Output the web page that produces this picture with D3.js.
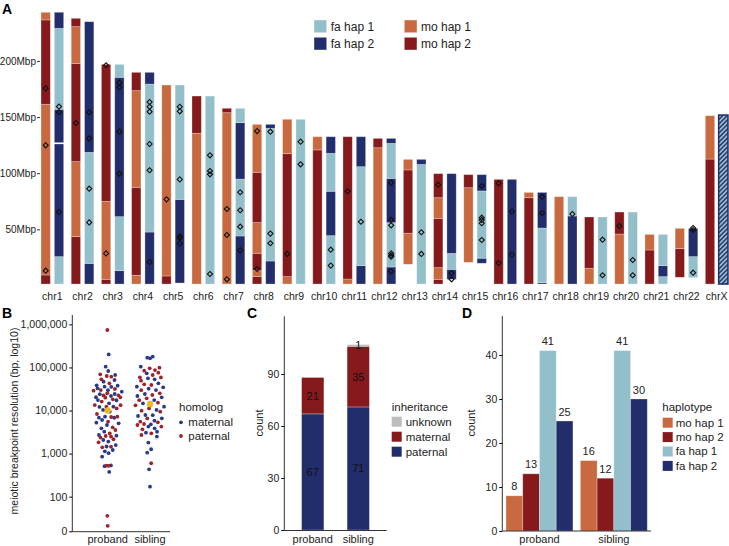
<!DOCTYPE html>
<html><head><meta charset="utf-8">
<script src="https://cdn.jsdelivr.net/npm/d3@7"></script>
<style>body{margin:0;background:#fff} svg{display:block;font-family:"Liberation Sans",Arial,Helvetica,sans-serif}</style>
</head><body><svg id="c" width="729" height="546"></svg>
<script>
// ---------- Panel A data ----------
const chroms = ["chr1","chr2","chr3","chr4","chr5","chr6","chr7","chr8","chr9","chr10","chr11","chr12","chr13","chr14","chr15","chr16","chr17","chr18","chr19","chr20","chr21","chr22","chrX"];
const hapNames = ["fa hap 1","fa hap 2","mo hap 1","mo hap 2"];
const hapColors = ["#93bfcb","#222d6b","#c8693f","#86191b"];
const aTicks = [50,100,150,200];
// maternal segments [startMbp, endMbp, haplotype index]
const matSegs = [
 [[1.3,9.4,3],[9.4,161.4,2],[161.4,236.5,3],[236.5,243.3,2]],
 [[1.3,43.5,3],[43.5,110.3,2],[110.3,197.8,3],[197.8,230.5,2],[230.5,237.9,3]],
 [[1.3,5.5,3],[5.5,74.9,2],[74.9,196.9,3]],
 [[1.3,9.1,2],[9.1,87.4,3],[87.4,173.5,2],[173.5,189.8,3]],
 [[1.3,8.5,3],[8.5,178.5,2]],
 [[1.3,135.5,2],[135.5,168.7,3]],
 [[1.3,153.9,2],[153.9,157.8,3]],
 [[1.3,7.9,3],[7.9,13.2,2],[13.2,28.7,3],[28.7,56,2],[56,100.8,3],[100.8,143.5,2]],
 [[1.3,7.9,2],[7.9,117.4,3],[117.4,148,2]],
 [[1.3,120.7,3],[120.7,132.5,2]],
 [[1.3,5.8,2],[5.8,132.5,3]],
 [[1.3,122.7,2],[122.7,131,3]],
 [[18.9,46.5,2],[46.5,102.9,3],[102.9,112.3,2]],
 [[1.3,5.5,3],[5.5,15.9,2],[15.9,59.8,3],[59.8,78.2,2],[78.2,99.6,3]],
 [[20.6,87.1,2],[87.1,98.7,3]],
 [[1.3,94.5,3]],
 [[1.3,78.2,3],[78.2,82.9,2]],
 [[1.3,79.1,2]],
 [[1.3,15.3,2],[15.3,61,3]],
 [[1.3,45.8,2],[45.8,65.4,3]],
 [[1.3,31.6,3],[31.6,45.5,2]],
 [[7.3,32.8,3],[32.8,50.9,2]],
 [[1.3,112.6,3],[112.6,151.2,2]]
];
// paternal segments (index 4 = hatched, unphased chrX)
const patSegs = [
 [[1.3,25.7,0],[25.7,126,1],[127.2,156.9,1],[156.9,229,0],[229,243.3,1]],
 [[1.3,19.7,1],[19.7,118.6,0],[118.6,234.9,1]],
 [[1.3,13.2,1],[13.2,61.3,0],[61.3,185.4,1],[185.4,196.9,0]],
 [[1.3,47.6,1],[47.6,179.4,0],[179.4,189.8,1]],
 [[2.2,76.7,1],[76.7,178.5,0]],
 [[1.3,168.7,0]],
 [[1.3,44.1,1],[44.1,94.8,0],[94.8,145,1],[145,157.8,0]],
 [[1.3,21.8,1],[21.8,140,0],[140,143.5,1]],
 [[1.3,148,0]],
 [[1.3,44.4,0],[44.4,83.9,1],[83.9,117.7,0],[117.7,132.5,1]],
 [[1.3,17.7,1],[17.7,105.8,0],[105.8,132.5,1]],
 [[1.3,16.5,1],[16.5,55.9,0],[55.9,95.4,1],[95.4,126.6,0],[126.6,131,1]],
 [[1.3,107.8,0],[107.8,112.3,1]],
 [[5.5,14.4,1],[14.4,28.6,0],[28.6,99.6,1]],
 [[19.8,24.3,1],[24.3,84.2,0],[84.2,98.7,1]],
 [[1.3,94.5,1]],
 [[1.3,2.5,1],[2.5,51.2,0],[51.2,82.9,1]],
 [[1.3,61.9,1],[61.9,79.1,0]],
 [[1.3,61,0]],
 [[1.3,65.4,0]],
 [[1.3,7.9,0],[7.9,17.7,1],[17.7,45.5,0]],
 [[7,25.7,0],[25.7,50.9,1]],
 [[1.3,151.8,4]]
];
const matMarks = [[175.6,124.8,13.2],[144.7],[196.1,28.6],[],[76.7],[],[68.1,45,5.5],[137.5,14.7],[28.1],[],[83.9],[],[],[89.8],[],[91,20],[],[],[],[53],[],[],[]];
const patMarks = [[159.3,154.3,65.4],[154.2,131,86.2,56.2],[180.5,176.5,137,99.6],[163.4,159.2,154.8,126,102.6,20.9],[159.2,155.1,94.5,43.8,42.3,37.5],[115.9,101.9,99,10.2],[83,67,52.4,31.3],[137,46.2,37.6],[128.1,107.9],[31.9,17.7],[56.8],[91.6,58.4,53.6,28.6,26.9,25.7,12.6],[47.4,28.1],[10.8,5.5],[88.6,60.4,58.4,55.4,40.5],[66,27.5],[79.1,64.6],[63.7],[40.8,9.1],[22.7,9.1],[],[51.2,49.4,11.4],[]];

// ---------- Panel B data (bp) ----------
const groups = ["proband","sibling"];
const probandMaternal = [201000,104000,82600,66700,51100,46800,38400,37800,35800,35500,32700,29700,27400,24200,24000,21700,20300,17500,17300,14700,12300,12100,10300,9400,7200,6830,6800,6030,5230,5050,4610,3860,3230,2700,2610,2070,1900,1580,1460,1210,1130,1020,850,530,510,375];
const probandPaternal = [740000,69200,63300,61000,53000,42800,31600,29900,28900,25100,22500,22400,20200,19900,18200,16100,13400,13300,12300,11200,8300,7200,7080,5520,4070,3530,2960,2560,2480,2350,2150,1830,1450,1400,526,520,36,21];
const siblingMaternal = [178000,168600,162700,104000,73000,55800,53000,42800,35800,34500,32100,29900,24200,21700,20200,17500,14700,12300,10300,7870,7800,7460,6590,5820,4790,4230,3860,3230,3060,2480,1800,1260,1050,432,171];
const siblingPaternal = [98800,95300,87100,84100,75600,66700,58900,58500,49300,40600,39100,29600,25100,22900,19200,17400,15200,13400,13200,11200,9930,9400,6550,5520,5320,4870,4610,4230,3660,2960,2700,596];
const medians = [10000,14200];
const bTickValues = [15.7,100,1000,10000,100000,1000000];
const bTickLabels = ["0","100","1,000","10,000","100,000","1,000,000"];
const homologs = ["maternal","paternal"];
const homologColors = ["#273a8c","#a0222a"];

// ---------- Panel C data ----------
const inhCats = ["paternal","maternal","unknown"];
const inhColors = ["#222d6b","#86191b","#bdbdbd"];
const inhProband = [67,21,0];
const inhSibling = [71,35,1];
const cTicks = [0,30,60,90];

// ---------- Panel D data ----------
const dHaps = ["mo hap 1","mo hap 2","fa hap 1","fa hap 2"];
const dColors = ["#c8693f","#86191b","#93bfcb","#222d6b"];
const dProband = [8,13,41,25];
const dSibling = [16,12,41,30];
const dTicks = [0,10,20,30,40];

const svg = d3.select("#c");
const txt = "#222";

// pattern for hatched chrX
const defs = svg.append("defs");
const pat = defs.append("pattern").attr("id","hatch").attr("patternUnits","userSpaceOnUse")
  .attr("width",3.2).attr("height",3.2).attr("patternTransform","rotate(45)");
pat.append("rect").attr("width",3.2).attr("height",3.2).attr("fill","#93bfcb");
pat.append("line").attr("x1",0.8).attr("x2",0.8).attr("y1",0).attr("y2",3.2).attr("stroke","#222d6b").attr("stroke-width",1.4);

function panelLabel(t,x,y){svg.append("text").attr("x",x).attr("y",y).text(t).attr("font-weight","bold").attr("font-size",14).attr("fill","#000");}

// ================= Panel A =================
panelLabel("A",2,14);
const xA = d3.scaleBand().domain(chroms).range([38,731]).paddingInner(0.25).paddingOuter(0.1);
const xIn = d3.scaleBand().domain(["mat","pat"]).range([0,xA.bandwidth()]).paddingInner(0.3);
const yA = d3.scaleLinear().domain([0,250]).range([285.5,4.75]);
const gA = svg.append("g");
const fillFor = h => h===4 ? "url(#hatch)" : hapColors[h];
chroms.forEach((c,i)=>{
  [["mat",matSegs[i],matMarks[i]],["pat",patSegs[i],patMarks[i]]].forEach(([side,segs,marks])=>{
    const x0 = xA(c)+xIn(side), w = xIn.bandwidth();
    gA.selectAll(null).data(segs).enter().append("rect")
      .attr("x",x0).attr("width",w)
      .attr("y",d=>yA(d[1])).attr("height",d=>yA(d[0])-yA(d[1]))
      .attr("fill",d=>fillFor(d[2]))
      .attr("stroke",d=>d[2]===4?"#222d6b":"#fff").attr("stroke-opacity",d=>d[2]===4?1:0.35)
      .attr("stroke-width",d=>d[2]===4?1.5:0.8);
    gA.selectAll(null).data(marks).enter().append("path")
      .attr("d",d3.symbol(d3.symbolSquare,13)())
      .attr("transform",d=>`translate(${x0+w/2},${yA(d)}) rotate(45)`)
      .attr("fill","none").attr("stroke","#111").attr("stroke-width",1.1);
  });
  gA.append("text").attr("x",xA(c)+xA.bandwidth()/2).attr("y",300).attr("text-anchor","middle")
    .attr("font-size",10.5).attr("fill",txt).text(c);
});
const axA = svg.append("g").attr("transform","translate(40,0)")
  .call(d3.axisLeft(yA).tickValues(aTicks).tickFormat(d=>d+"Mbp").tickSize(3).tickPadding(1));
axA.select(".domain").remove();
axA.selectAll("text").attr("font-size",10).attr("fill",txt).attr("font-family",null);
axA.selectAll("line").attr("stroke","#333");
// legend A
const legA = [[0,314,20],[1,314,37.3],[2,404.3,20],[3,404.3,37.3]];
legA.forEach(([h,x,y])=>{
  svg.append("rect").attr("x",x).attr("y",y).attr("width",12.7).attr("height",12.7).attr("fill",hapColors[h]).attr("stroke","#fff").attr("stroke-opacity",0.4);
  svg.append("text").attr("x",x+16.7).attr("y",y+10.7).attr("font-size",12).attr("fill",txt).text(hapNames[h]);
});

// ================= Panel B =================
panelLabel("B",2,318);
const yB = d3.scaleLog().domain([15.7,1.65e6]).range([531.3,315]);
const xB = d3.scalePoint().domain(groups).range([107.7,150]);
function vdc(n){let v=0,d=1;while(n>0){d*=2;v+=(n%2)/d;n=Math.floor(n/2);}return v;}
function quasi(vals,width,bw){
  const L = vals.map(v=>Math.log10(v));
  const order = d3.range(vals.length).sort((a,b)=>L[a]-L[b]);
  const dens = L.map(l=>d3.sum(L,m=>Math.exp(-0.5*((l-m)/bw)**2)));
  const mx = d3.max(dens);
  const off = new Array(vals.length);
  order.forEach((idx,r)=>{off[idx]=(vdc(r+1)-0.5)*2*width*dens[idx]/mx;});
  return off;
}
const bSets = [[probandMaternal,probandPaternal],[siblingMaternal,siblingPaternal]];
bSets.forEach((sets,gi)=>{
  const pts = [];
  sets.forEach((arr,hi)=>arr.forEach(v=>pts.push({v,hi})));
  const off = quasi(pts.map(p=>p.v),15,0.28);
  svg.append("g").selectAll("circle").data(pts).enter().append("circle")
    .attr("cx",(d,i)=>xB(groups[gi])+off[i]).attr("cy",d=>yB(d.v)).attr("r",1.9)
    .attr("fill",d=>homologColors[d.hi]);
  svg.append("circle").attr("cx",xB(groups[gi])).attr("cy",yB(medians[gi])).attr("r",3.2).attr("fill","#efb81e");
});
const axBy = svg.append("g").attr("transform","translate(72.3,0)")
  .call(d3.axisLeft(yB).tickValues(bTickValues).tickFormat((d,i)=>bTickLabels[i]).tickSize(3).tickPadding(2));
axBy.select(".domain").attr("d","M0,315V531.7").attr("stroke","#333");
axBy.selectAll("text").attr("font-size",10.5).attr("fill",txt).attr("font-family",null);
svg.append("line").attr("x1",72.3).attr("x2",170).attr("y1",531.7).attr("y2",531.7).attr("stroke","#333");
groups.forEach(g=>svg.append("text").attr("x",xB(g)).attr("y",543).attr("text-anchor","middle").attr("font-size",11).attr("fill",txt).text(g));
svg.append("text").attr("transform","translate(18,421) rotate(-90)").attr("text-anchor","middle").attr("font-size",10.5).attr("fill",txt).text("meiotic breakpoint resolution (bp, log10)");
svg.append("text").attr("x",179).attr("y",411).attr("font-size",11.5).attr("fill",txt).text("homolog");
homologs.forEach((h,i)=>{
  svg.append("circle").attr("cx",181).attr("cy",422.3+i*13.7).attr("r",1.9).attr("fill",homologColors[i]);
  svg.append("text").attr("x",188.3).attr("y",426.2+i*13.7).attr("font-size",11.5).attr("fill",txt).text(h);
});

// ================= Panel C =================
panelLabel("C",247,318);
const yC = d3.scaleLinear().domain([0,123.3]).range([530,316.3]);
const xC = d3.scaleBand().domain(groups).range([284.3,386.7]).paddingInner(0.51).paddingOuter(0.38);
[inhProband,inhSibling].forEach((vals,gi)=>{
  let cum = 0;
  vals.forEach((v,ci)=>{
    const y0 = cum, y1 = cum+v; cum = y1;
    if(v<=0) return;
    svg.append("rect").attr("x",xC(groups[gi])).attr("width",xC.bandwidth())
      .attr("y",yC(y1)).attr("height",yC(y0)-yC(y1)).attr("fill",inhColors[ci])
      .attr("stroke","#fff").attr("stroke-opacity",0.35).attr("stroke-width",0.8);
    svg.append("text").attr("x",xC(groups[gi])+xC.bandwidth()/2).attr("y",yC((y0+y1)/2)+4)
      .attr("text-anchor","middle").attr("font-size",11).attr("fill","#111").text(v);
  });
});
const axCy = svg.append("g").attr("transform","translate(284.3,0)")
  .call(d3.axisLeft(yC).tickValues(cTicks).tickSize(3).tickPadding(2));
axCy.select(".domain").attr("d","M0,316.3V530.5").attr("stroke","#333");
axCy.selectAll("text").attr("font-size",10.5).attr("fill",txt).attr("font-family",null);
svg.append("line").attr("x1",284.3).attr("x2",386.7).attr("y1",530.5).attr("y2",530.5).attr("stroke","#333");
groups.forEach(g=>svg.append("text").attr("x",xC(g)+xC.bandwidth()/2).attr("y",543).attr("text-anchor","middle").attr("font-size",11).attr("fill",txt).text(g));
svg.append("text").attr("transform","translate(263,423) rotate(-90)").attr("text-anchor","middle").attr("font-size",11).attr("fill",txt).text("count");
svg.append("text").attr("x",391.7).attr("y",411).attr("font-size",11.5).attr("fill",txt).text("inheritance");
[2,1,0].forEach((ci,k)=>{
  svg.append("rect").attr("x",391.7).attr("y",416.7+k*15).attr("width",10).attr("height",10).attr("fill",inhColors[ci]);
  svg.append("text").attr("x",405.7).attr("y",425.5+k*15).attr("font-size",11.5).attr("fill",txt).text(inhCats[ci]);
});

// ================= Panel D =================
panelLabel("D",462,318);
const yD = d3.scaleLinear().domain([0,48.8]).range([531,316.3]);
const xD = d3.scaleBand().domain(groups).range([502.3,651]).paddingInner(0.1).paddingOuter(0.05);
const xDin = d3.scaleBand().domain(dHaps).range([0,xD.bandwidth()]);
[dProband,dSibling].forEach((vals,gi)=>{
  vals.forEach((v,hi)=>{
    const x = xD(groups[gi])+xDin(dHaps[hi]);
    svg.append("rect").attr("x",x).attr("width",xDin.bandwidth()).attr("y",yD(v)).attr("height",yD(0)-yD(v))
      .attr("fill",dColors[hi]).attr("stroke","#fff").attr("stroke-opacity",0.35).attr("stroke-width",0.8);
    svg.append("text").attr("x",x+xDin.bandwidth()/2).attr("y",yD(v)-5.5).attr("text-anchor","middle")
      .attr("font-size",11).attr("fill",txt).text(v);
  });
});
const axDy = svg.append("g").attr("transform","translate(502.3,0)")
  .call(d3.axisLeft(yD).tickValues(dTicks).tickSize(3).tickPadding(2));
axDy.select(".domain").attr("d","M0,316V531").attr("stroke","#333");
axDy.selectAll("text").attr("font-size",10.5).attr("fill",txt).attr("font-family",null);
svg.append("line").attr("x1",502.3).attr("x2",651).attr("y1",531).attr("y2",531).attr("stroke","#333");
groups.forEach(g=>svg.append("text").attr("x",xD(g)+xD.bandwidth()/2).attr("y",543).attr("text-anchor","middle").attr("font-size",11).attr("fill",txt).text(g));
svg.append("text").attr("transform","translate(475,423) rotate(-90)").attr("text-anchor","middle").attr("font-size",11).attr("fill",txt).text("count");
svg.append("text").attr("x",662.3).attr("y",411).attr("font-size",11.5).attr("fill",txt).text("haplotype");
dHaps.forEach((h,k)=>{
  svg.append("rect").attr("x",662.7).attr("y",417.7+k*14.4).attr("width",10).attr("height",10).attr("fill",dColors[k]);
  svg.append("text").attr("x",675.7).attr("y",426.5+k*14.4).attr("font-size",11.5).attr("fill",txt).text(h);
});
</script></body></html>
